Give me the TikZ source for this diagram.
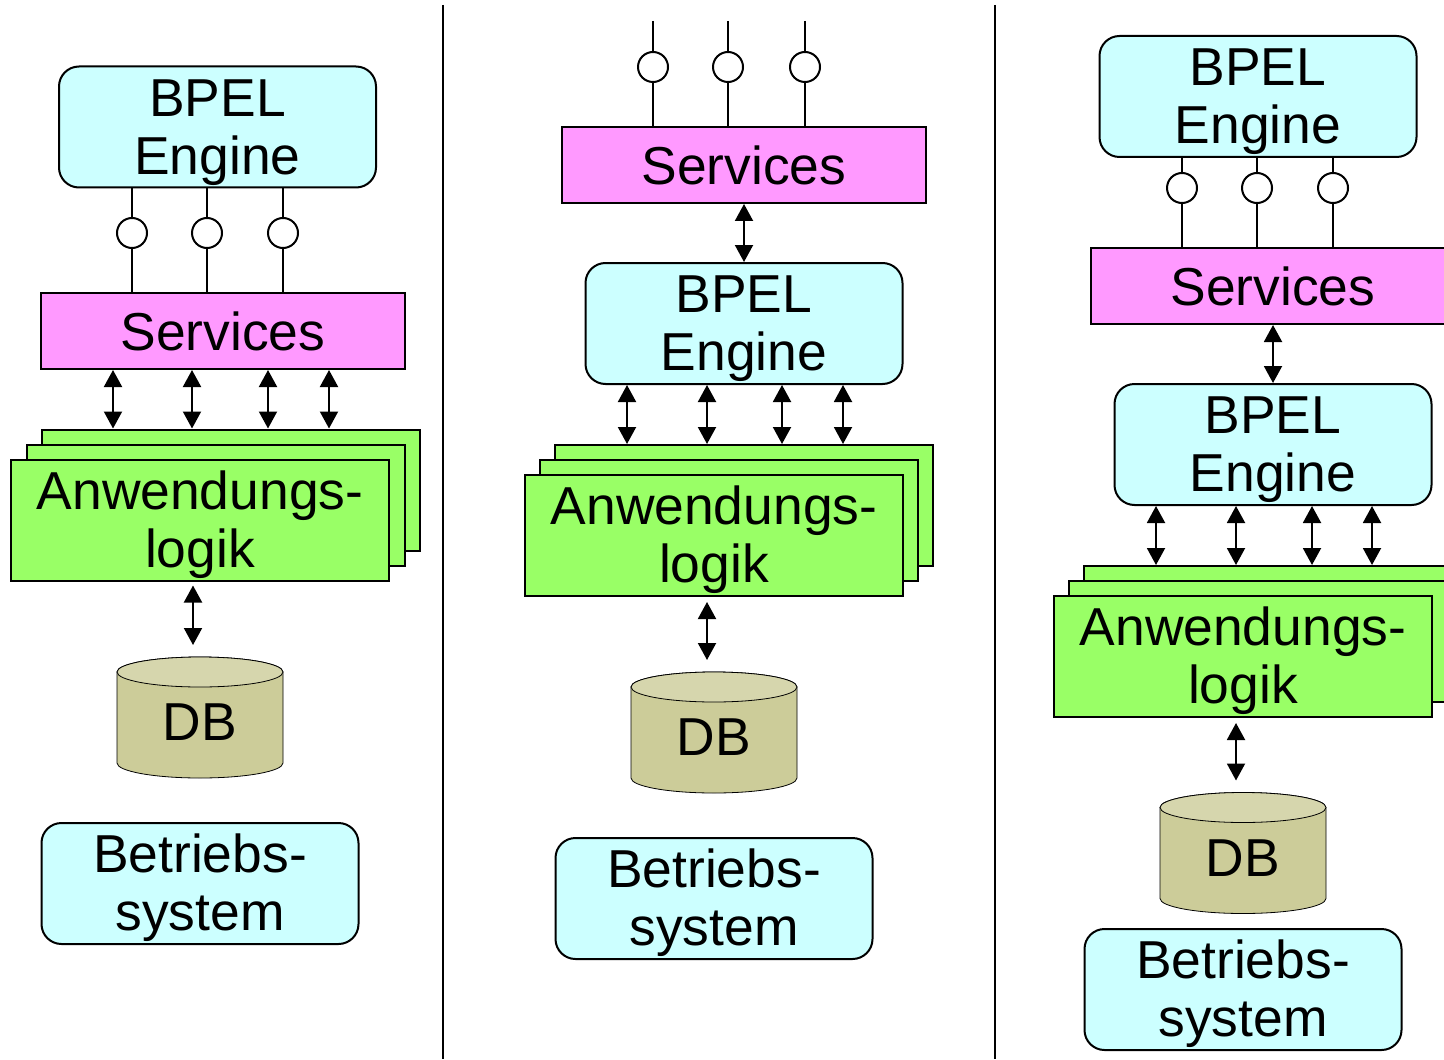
\documentclass[tikz,border=0pt]{standalone}
\usepackage{fontspec}
\setmainfont{Liberation Sans}
\usetikzlibrary{arrows.meta,backgrounds}
\definecolor{cyanc}{HTML}{CCFFFF}
\definecolor{magc}{HTML}{FF99FF}
\definecolor{greenc}{HTML}{99FF66}
\definecolor{dbc}{HTML}{CCCC99}
\definecolor{dbtop}{HTML}{D6D6AD}
\newcommand{\fstrut}{\rule{0pt}{24pt}}
\newcommand{\dstrut}{\rule{0pt}{23pt}}
\newcommand{\dbcyl}[1]{%
  \begin{scope}[on background layer]
    \path[fill=dbc, draw] ([yshift=-7.5pt]#1.north west) -- ([yshift=7.5pt]#1.south west)
      arc[start angle=180, end angle=360, x radius=41.5pt, y radius=7.5pt]
      -- ([yshift=-7.5pt]#1.north east)
      arc[start angle=0, end angle=180, x radius=41.5pt, y radius=7.5pt] -- cycle;
    \draw[fill=dbtop] ([yshift=-7.5pt]#1.north) ellipse[x radius=41.5pt, y radius=7.5pt];
  \end{scope}}
\begin{document}
\begin{tikzpicture}[x=0.5pt,y=-0.5pt, line width=1pt,
  lbl/.style={font=\fontsize{26.7pt}{29pt}\selectfont, align=center, inner sep=0pt},
  eng/.style={lbl, draw, fill=cyanc, rounded corners=10pt, minimum width=158.5pt, minimum height=60.5pt},
  svc/.style={lbl, draw, fill=magc, minimum width=182pt, minimum height=38pt},
  app/.style={lbl, draw, fill=greenc, minimum width=189pt, minimum height=60.5pt},
  dbn/.style={lbl, outer sep=0pt, minimum width=83pt, minimum height=60.5pt},
  lol/.style={circle, draw, fill=white, minimum size=15pt, inner sep=0pt},
  dar/.style={{Triangle[width=9pt,length=8.5pt]}-{Triangle[width=9pt,length=8.5pt]}},
  sep/.style={line width=1.2pt}]
\clip (0,0) rectangle (1444,1059);
\begin{scope}[on background layer]
  \fill[white] (0,0) rectangle (1444,1059);
\end{scope}

% ---------------- dividers
\coordinate (v1t) at (443,5); \coordinate (v1b) at (443,1059);
\coordinate (v2t) at (995,5); \coordinate (v2b) at (995,1059);
\draw[sep] (v1t) -- (v1b);
\draw[sep] (v2t) -- (v2b);

% ---------------- panel 1
\node[eng] (e1) at (217.5,127) {\fstrut BPEL\\Engine};
\node[svc] (s1) at (223,331) {Services};
\node[lol] (l1a) at (132,233) {};
\node[lol] (l1b) at (207,233) {};
\node[lol] (l1c) at (283,233) {};
\foreach \l in {l1a,l1b,l1c} {
  \draw (e1.south -| \l) -- (\l.north);
  \draw (\l.south) -- (s1.north -| \l);
}
\node[app] (g1c) at (230.5,490) {};
\node[app] (g1b) at (215.5,505) {};
\node[app] (g1a) at (200,520) {\fstrut Anwendungs-\\logik};
\coordinate (x1a) at (113,0);
\coordinate (x1b) at (192,0);
\coordinate (x1c) at (268,0);
\coordinate (x1d) at (329,0);
\coordinate (x1e) at (193,0);
\foreach \x in {x1a,x1b,x1c,x1d} {
  \draw[dar] (s1.south -| \x) -- (g1c.north -| \x);
}
\node[dbn] (d1) at (200,717.5) {\dstrut DB};
\dbcyl{d1}
\draw[dar, shorten <=2pt, shorten >=6pt] (g1a.south -| x1e) -- (d1.north -| x1e);
\node[eng] (b1) at (200,883.5) {\fstrut Betriebs-\\system};

% ---------------- panel 2
\node[svc] (s2) at (744,165) {Services};
\node[lol] (l2a) at (653,67) {};
\node[lol] (l2b) at (728,67) {};
\node[lol] (l2c) at (805,67) {};
\coordinate (t2a) at (653,21);
\coordinate (t2b) at (728,21);
\coordinate (t2c) at (805,21);
\draw (t2a) -- (l2a.north); \draw (l2a.south) -- (s2.north -| l2a);
\draw (t2b) -- (l2b.north); \draw (l2b.south) -- (s2.north -| l2b);
\draw (t2c) -- (l2c.north); \draw (l2c.south) -- (s2.north -| l2c);
\node[eng] (e2) at (744,323.5) {\fstrut BPEL\\Engine};
\draw[dar] (s2.south) -- (e2.north);
\node[app] (g2c) at (744,505.5) {};
\node[app] (g2b) at (729,520.5) {};
\node[app] (g2a) at (714,535.5) {\fstrut Anwendungs-\\logik};
\coordinate (x2a) at (627,0);
\coordinate (x2b) at (707,0);
\coordinate (x2c) at (782,0);
\coordinate (x2d) at (843,0);
\foreach \x in {x2a,x2b,x2c,x2d} {
  \draw[dar] (e2.south -| \x) -- (g2c.north -| \x);
}
\node[dbn] (d2) at (714,732.5) {\dstrut DB};
\dbcyl{d2}
\draw[dar, shorten <=2.5pt, shorten >=6pt] (g2a.south -| x2b) -- (d2.north -| x2b);
\node[eng] (b2) at (714,898.5) {\fstrut Betriebs-\\system};

% ---------------- panel 3
\node[eng] (e3) at (1258,96.5) {\fstrut BPEL\\Engine};
\node[svc] (s3) at (1273,286) {Services};
\node[lol] (l3a) at (1182,188) {};
\node[lol] (l3b) at (1257,188) {};
\node[lol] (l3c) at (1333,188) {};
\foreach \l in {l3a,l3b,l3c} {
  \draw (e3.south -| \l) -- (\l.north);
  \draw (\l.south) -- (s3.north -| \l);
}
\node[eng] (e4) at (1273,444.5) {\fstrut BPEL\\Engine};
\draw[dar] (s3.south) -- (e4.north);
\node[app] (g3c) at (1273,626.5) {};
\node[app] (g3b) at (1258,641.5) {};
\node[app] (g3a) at (1243,656.5) {\fstrut Anwendungs-\\logik};
\coordinate (x3a) at (1156,0);
\coordinate (x3b) at (1236,0);
\coordinate (x3c) at (1312,0);
\coordinate (x3d) at (1372,0);
\foreach \x in {x3a,x3b,x3c,x3d} {
  \draw[dar] (e4.south -| \x) -- (g3c.north -| \x);
}
\node[dbn] (d3) at (1243,853) {\dstrut DB};
\dbcyl{d3}
\draw[dar, shorten <=2.5pt, shorten >=6pt] (g3a.south -| x3b) -- (d3.north -| x3b);
\node[eng] (b3) at (1243,989.5) {\fstrut Betriebs-\\system};
\end{tikzpicture}
\end{document}
